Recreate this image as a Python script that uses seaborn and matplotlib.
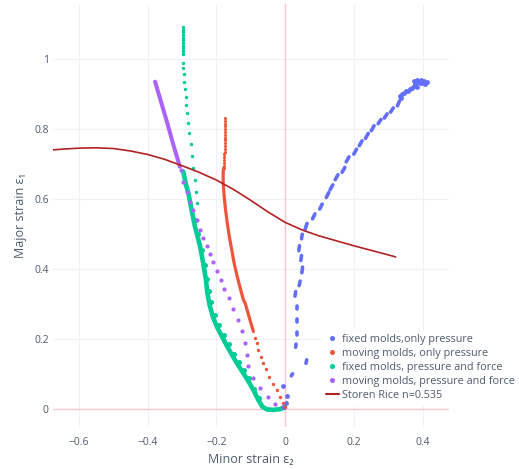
import numpy as np
import pandas as pd
import matplotlib
matplotlib.use("Agg")
import matplotlib.pyplot as plt
from matplotlib.lines import Line2D
import seaborn as sns

# ---------------- data ----------------
# fixed molds, only pressure: single dots and the top cluster
blue_dot_x = [-0.003, 0.003, 0.005, -0.005,
              0.333, 0.337, 0.341, 0.347, 0.352, 0.359, 0.364, 0.369, 0.374, 0.378,
              0.383, 0.376, 0.388, 0.393, 0.398, 0.403, 0.408, 0.412, 0.385, 0.395]
blue_dot_y = [0.004, 0.018, 0.037, 0.066,
              0.895, 0.888, 0.900, 0.904, 0.908, 0.907, 0.913, 0.916, 0.924, 0.929,
              0.921, 0.938, 0.935, 0.932, 0.930, 0.936, 0.929, 0.933, 0.940, 0.940]
# fixed molds, only pressure: elongated dashes (upper end, lower end)
blue_top_x = [0.022, 0.063, 0.032, 0.034, 0.036, 0.034, 0.031, 0.044, 0.051, 0.048,
              0.042, 0.050, 0.064, 0.087, 0.108, 0.127, 0.139, 0.154, 0.174, 0.186,
              0.208, 0.224, 0.242, 0.259, 0.279, 0.297, 0.315, 0.333]
blue_top_y = [0.100, 0.140, 0.185, 0.220, 0.258, 0.294, 0.335, 0.365, 0.405, 0.438,
              0.466, 0.499, 0.530, 0.557, 0.585, 0.618, 0.640, 0.669, 0.690, 0.720,
              0.742, 0.766, 0.787, 0.809, 0.827, 0.843, 0.860, 0.880]
blue_bot_x = [0.018, 0.061, 0.031, 0.034, 0.036, 0.034, 0.029, 0.041, 0.049, 0.046,
              0.040, 0.048, 0.058, 0.080, 0.101, 0.120, 0.131, 0.146, 0.166, 0.178,
              0.200, 0.216, 0.234, 0.251, 0.271, 0.289, 0.307, 0.327]
blue_bot_y = [0.094, 0.130, 0.176, 0.211, 0.249, 0.285, 0.322, 0.352, 0.389, 0.424,
              0.452, 0.486, 0.512, 0.543, 0.571, 0.604, 0.626, 0.655, 0.676, 0.706,
              0.728, 0.752, 0.773, 0.795, 0.815, 0.831, 0.848, 0.866]

# moving molds, only pressure
red_stack_x = [-0.175, -0.175, -0.175, -0.175, -0.175, -0.175, -0.175, -0.175, -0.176, -0.176,
               -0.176, -0.176, -0.176, -0.177, -0.177, -0.177, -0.177, -0.178, -0.178]
red_stack_y = [0.831, 0.823, 0.815, 0.807, 0.799, 0.791, 0.783, 0.775, 0.767, 0.759,
               0.751, 0.743, 0.735, 0.727, 0.719, 0.711, 0.703, 0.695, 0.687]
red_band_x = [-0.178, -0.180, -0.180, -0.177, -0.173, -0.168, -0.162, -0.155, -0.148,
              -0.139, -0.129, -0.121, -0.116, -0.102, -0.092]
red_band_y = [0.690, 0.678, 0.645, 0.607, 0.569, 0.531, 0.492, 0.454, 0.416,
              0.378, 0.340, 0.311, 0.302, 0.254, 0.221]
red_dots_x = [-0.087, -0.082, -0.078, -0.071, -0.063, -0.055, -0.046, -0.034, -0.024,
              -0.015, -0.005, 0.000]
red_dots_y = [0.202, 0.188, 0.169, 0.149, 0.132, 0.113, 0.091, 0.071, 0.054,
              0.035, 0.016, 0.005]

# fixed molds, pressure and force
green_dots_x = [-0.298, -0.298, -0.298, -0.298, -0.298, -0.298, -0.297, -0.297, -0.297, -0.297,
                -0.297, -0.296, -0.296, -0.294, -0.293, -0.290, -0.289, -0.287, -0.285,
                -0.282, -0.279, -0.275, -0.272, -0.267, -0.262, -0.259, -0.255]
green_dots_y = [1.092, 1.084, 1.077, 1.069, 1.061, 1.054, 1.046, 1.038, 1.030, 1.022,
                1.014, 0.989, 0.973, 0.956, 0.935, 0.914, 0.892, 0.869, 0.845,
                0.816, 0.788, 0.756, 0.723, 0.688, 0.654, 0.621, 0.588]
green_band_x = [-0.296, -0.288, -0.281, -0.272, -0.262, -0.247, -0.238, -0.230, -0.226,
                -0.219, -0.209, -0.196, -0.182, -0.168, -0.152, -0.136, -0.120,
                -0.105, -0.090, -0.078, -0.066, -0.052, -0.034, -0.015, 0.000]
green_band_y = [0.678, 0.640, 0.616, 0.569, 0.521, 0.464, 0.416, 0.369, 0.331,
                0.295, 0.260, 0.230, 0.204, 0.178, 0.150, 0.124, 0.100,
                0.076, 0.050, 0.026, 0.006, -0.002, -0.003, -0.001, 0.005]
# small hooks on the right side of the green band
green_hook_x = [-0.262, -0.252, -0.243, -0.234, -0.227, -0.222, -0.214, -0.204, -0.192,
                -0.178, -0.163, -0.149, -0.134, -0.119, -0.105, -0.090, -0.076]
green_hook_y = [0.540, 0.500, 0.455, 0.412, 0.372, 0.336, 0.304, 0.268, 0.240,
                0.212, 0.186, 0.158, 0.135, 0.111, 0.087, 0.058, 0.030]

# moving molds, pressure and force
purple_band_x = [-0.378, -0.360, -0.342, -0.325, -0.306]
purple_band_y = [0.935, 0.875, 0.815, 0.755, 0.692]
purple_dots_x = [-0.303, -0.296, -0.286, -0.277, -0.267, -0.257, -0.247, -0.238, -0.228,
                 -0.218, -0.209, -0.199, -0.187, -0.177, -0.163, -0.150, -0.136, -0.124,
                 -0.116, -0.112, -0.107, -0.094, -0.073, -0.051, -0.028, -0.006]
purple_dots_y = [0.683, 0.649, 0.621, 0.592, 0.569, 0.540, 0.511, 0.488, 0.464,
                 0.443, 0.419, 0.395, 0.369, 0.342, 0.316, 0.285, 0.254, 0.221,
                 0.189, 0.154, 0.121, 0.088, 0.059, 0.033, 0.014, 0.005]

# Storen-Rice forming limit curve, n = 0.535
sr_x = [-0.675, -0.650, -0.600, -0.550, -0.500, -0.450, -0.400, -0.350, -0.300, -0.250,
        -0.200, -0.150, -0.100, -0.050, 0.000, 0.050, 0.100, 0.150, 0.200, 0.250,
        0.300, 0.322]
sr_y = [0.740, 0.742, 0.745, 0.746, 0.744, 0.737, 0.727, 0.713, 0.695, 0.676,
        0.654, 0.627, 0.596, 0.563, 0.533, 0.511, 0.494, 0.480, 0.466, 0.453,
        0.440, 0.434]

labels = ["fixed molds,only pressure", "moving molds, only pressure",
          "fixed molds, pressure and force", "moving molds, pressure and force",
          "Storen Rice n=0.535"]

C_BLUE, C_RED, C_GREEN, C_PURPLE, C_SR = "#636EFA", "#EF553B", "#00CC96", "#AB63FA", "#B22222"
TXT = "#4d5b70"

# ---------------- figure ----------------
sns.set_style("white")
plt.rcParams["font.family"] = ["Open Sans", "DejaVu Sans"]

W, H = 519, 469
fig = plt.figure(figsize=(W / 100, H / 100), dpi=100)
ax = fig.add_axes([53 / W, 1 - 427 / H, 396 / W, 423 / H])

ax.set_xlim(-0.675, 0.477)
ax.set_ylim(-0.052, 1.157)

# grid and zero lines
for v in [-0.6, -0.4, -0.2, 0.2, 0.4]:
    ax.axvline(v, color="#edf2f8", lw=0.8, zorder=0)
for v in [0.2, 0.4, 0.6, 0.8, 1.0]:
    ax.axhline(v, color="#edf2f8", lw=0.8, zorder=0)
ax.axvline(0, color="#ffc4cf", lw=1.0, zorder=0.5)
ax.axhline(0, color="#ffc4cf", lw=1.0, zorder=0.5)

# blue series: dashes as short segments, one unit per dash
n_dash = len(blue_top_x)
dash_df = pd.DataFrame({
    "x": blue_top_x + blue_bot_x,
    "y": blue_top_y + blue_bot_y,
    "dash": list(range(n_dash)) * 2,
})
sns.lineplot(data=dash_df, x="x", y="y", units="dash", estimator=None, sort=False,
             color=C_BLUE, lw=2.6, solid_capstyle="round", ax=ax, legend=False, zorder=3)
sns.scatterplot(x=blue_dot_x, y=blue_dot_y, color=C_BLUE, s=12, linewidth=0, ax=ax,
                legend=False, zorder=3)

# red series
sns.lineplot(x=red_band_x, y=red_band_y, sort=False, estimator=None, color=C_RED, lw=2.3,
             solid_capstyle="round", ax=ax, legend=False, zorder=3)
sns.scatterplot(x=red_stack_x, y=red_stack_y, color=C_RED, s=5, linewidth=0, ax=ax, legend=False, zorder=3)
sns.scatterplot(x=red_dots_x, y=red_dots_y, color=C_RED, s=6, linewidth=0, ax=ax, legend=False, zorder=3)

# green series
sns.lineplot(x=green_band_x, y=green_band_y, sort=False, estimator=None, color=C_GREEN, lw=3.3,
             solid_capstyle="round", ax=ax, legend=False, zorder=2.5)
sns.scatterplot(x=green_hook_x, y=green_hook_y, color=C_GREEN, s=13, linewidth=0, ax=ax,
                legend=False, zorder=2.5)
sns.scatterplot(x=green_dots_x, y=green_dots_y, color=C_GREEN, s=6, linewidth=0, ax=ax, legend=False, zorder=3)

# purple series
sns.lineplot(x=purple_band_x, y=purple_band_y, sort=False, estimator=None, color=C_PURPLE, lw=2.9,
             solid_capstyle="round", ax=ax, legend=False, zorder=2.8)
sns.scatterplot(x=purple_dots_x, y=purple_dots_y, color=C_PURPLE, s=9, linewidth=0, ax=ax, legend=False, zorder=2.8)

# Storen-Rice curve
sns.lineplot(x=sr_x, y=sr_y, sort=False, estimator=None, color=C_SR, lw=1.2, ax=ax, legend=False, zorder=4)

# axes styling
for sp in ax.spines.values():
    sp.set_visible(False)
ax.set_xticks([-0.6, -0.4, -0.2, 0, 0.2, 0.4])
ax.set_xticklabels(["\u22120.6", "\u22120.4", "\u22120.2", "0", "0.2", "0.4"])
ax.set_yticks([0, 0.2, 0.4, 0.6, 0.8, 1.0])
ax.set_yticklabels(["0", "0.2", "0.4", "0.6", "0.8", "1"])
ax.tick_params(axis="both", length=0, labelsize=7.5, labelcolor=TXT)
ax.tick_params(axis="x", pad=7)
ax.tick_params(axis="y", pad=3)
ax.set_xlabel("Minor strain \u03b5\u2082", fontsize=9, color=TXT, labelpad=4)
ax.set_ylabel("Major strain \u03b5\u2081", fontsize=9, color=TXT, labelpad=5)

# legend
handles = [
    Line2D([], [], marker="o", ls="none", color=C_BLUE, markersize=2.6),
    Line2D([], [], marker="o", ls="none", color=C_RED, markersize=2.6),
    Line2D([], [], marker="o", ls="none", color=C_GREEN, markersize=2.6),
    Line2D([], [], marker="o", ls="none", color=C_PURPLE, markersize=2.6),
    Line2D([], [], color=C_SR, lw=1.5),
]
leg = ax.legend(handles, labels, loc="upper left", bbox_to_anchor=(322 / W, 1 - 330 / H),
                bbox_transform=fig.transFigure, fontsize=7.8, frameon=True, framealpha=1,
                edgecolor="white", facecolor="white", fancybox=False,
                handlelength=1.2, handletextpad=0.3, labelspacing=0.28, borderpad=0.35,
                borderaxespad=0)
for t in leg.get_texts():
    t.set_color(TXT)
leg.set_zorder(10)

fig.savefig("out.png", dpi=100)
